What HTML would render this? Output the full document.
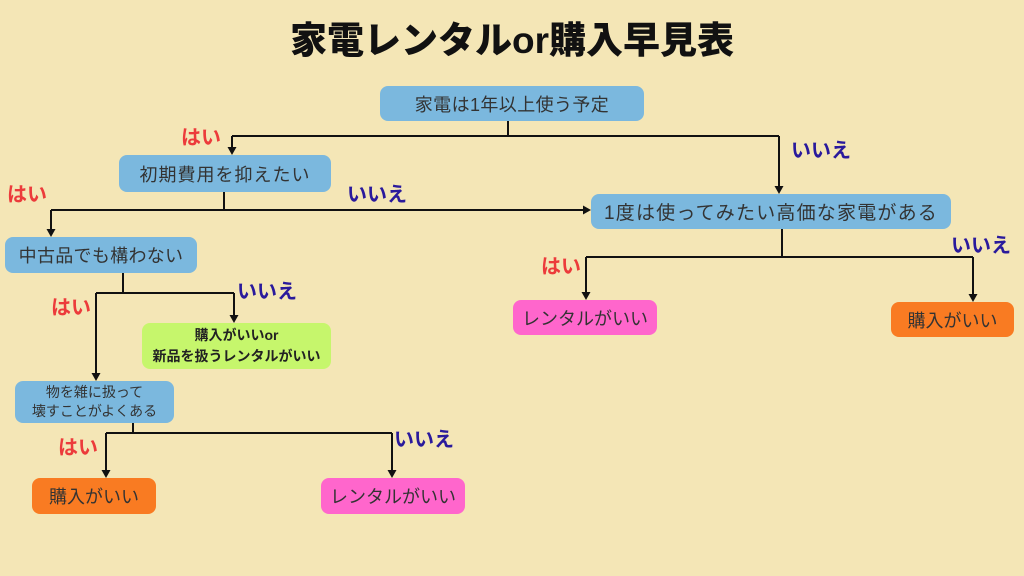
<!DOCTYPE html>
<html><head><meta charset="utf-8">
<style>
*{margin:0;padding:0;box-sizing:border-box}
html,body{width:1024px;height:576px;overflow:hidden;background:#f4e6b6}
body{position:relative;font-family:"Liberation Sans","Noto Sans CJK JP",sans-serif;color:#333}
.t{position:absolute;left:0;width:1024px;top:16px;text-align:center;font-size:37px;font-weight:900;color:#111;line-height:50px}
.n{position:absolute;display:flex;align-items:center;justify-content:center;text-align:center;border-radius:8px;white-space:nowrap}
.b{background:#7bb8de}
.g{background:#c6f66c;font-weight:bold;color:#222}
.o{background:#f97b22}
.p{background:#ff66cc}
svg{position:absolute;left:0;top:0}
</style></head><body>
<div class="t">家電レンタルor購入早見表</div>
<svg width="1024" height="576" viewBox="0 0 1024 576">
<g stroke="#111" stroke-width="2" fill="none">
<path d="M508 121V136M232 136H779M232 136V148M779 136V188"/>
<path d="M224 192V210M51 210H585M51 210V231"/>
<path d="M123 273V293M96 293H234M234 293V317M96 293V375"/>
<path d="M133 423V433M106 433H392M106 433V472M392 433V472"/>
<path d="M782 229V257M586 257H973M586 257V294M973 257V296"/>
</g>
<g fill="#111">
<polygon points="227.5,147 236.5,147 232,155"/>
<polygon points="774.5,186 783.5,186 779,194"/>
<polygon points="46.5,229 55.5,229 51,237"/>
<polygon points="583,205.5 583,214.5 591,210"/>
<polygon points="229.5,315 238.5,315 234,323"/>
<polygon points="91.5,373 100.5,373 96,381"/>
<polygon points="101.5,470 110.5,470 106,478"/>
<polygon points="387.5,470 396.5,470 392,478"/>
<polygon points="581.5,292 590.5,292 586,300"/>
<polygon points="968.5,294 977.5,294 973,302"/>
</g>
<g font-family="Liberation Sans, Noto Sans CJK JP, sans-serif" font-weight="bold" font-size="20">
<text x="181" y="144" fill="#ec3b3b">はい</text>
<text x="7" y="201" fill="#ec3b3b">はい</text>
<text x="347" y="201" fill="#2a1a9c">いいえ</text>
<text x="791" y="157" fill="#2a1a9c">いいえ</text>
<text x="541" y="273" fill="#ec3b3b">はい</text>
<text x="951" y="252" fill="#2a1a9c">いいえ</text>
<text x="237" y="298" fill="#2a1a9c">いいえ</text>
<text x="51" y="314" fill="#ec3b3b">はい</text>
<text x="58" y="454" fill="#ec3b3b">はい</text>
<text x="394" y="446" fill="#2a1a9c">いいえ</text>
</g>
</svg>
<div class="n b" style="left:380px;top:86px;width:264px;height:35px;font-size:18px;letter-spacing:0.4px">家電は1年以上使う予定</div>
<div class="n b" style="left:119px;top:155px;width:212px;height:37px;font-size:18px;letter-spacing:1px">初期費用を抑えたい</div>
<div class="n b" style="left:591px;top:194px;width:360px;height:35px;font-size:19px;letter-spacing:1.2px">1度は使ってみたい高価な家電がある</div>
<div class="n b" style="left:5px;top:237px;width:192px;height:36px;font-size:18px;letter-spacing:0.3px">中古品でも構わない</div>
<div class="n g" style="left:142px;top:323px;width:189px;height:46px;font-size:14px;line-height:21px">購入がいいor<br>新品を扱うレンタルがいい</div>
<div class="n b" style="left:15px;top:381px;width:159px;height:42px;font-size:14px;line-height:19px">物を雑に扱って<br>壊すことがよくある</div>
<div class="n o" style="left:32px;top:478px;width:124px;height:36px;font-size:18px">購入がいい</div>
<div class="n p" style="left:321px;top:478px;width:144px;height:36px;font-size:18px">レンタルがいい</div>
<div class="n p" style="left:513px;top:300px;width:144px;height:35px;font-size:18px">レンタルがいい</div>
<div class="n o" style="left:891px;top:302px;width:123px;height:35px;font-size:18px">購入がいい</div>
</body></html>
